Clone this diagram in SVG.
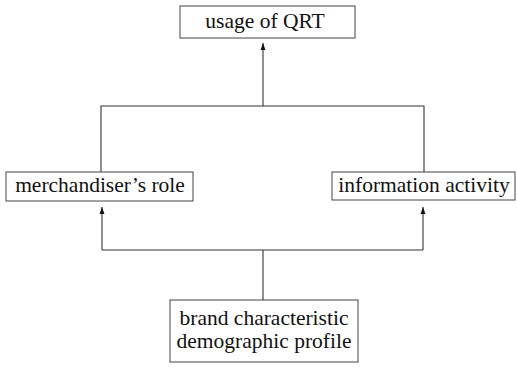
<svg xmlns="http://www.w3.org/2000/svg" width="517" height="368" viewBox="0 0 517 368">
<defs>
<style>
.box{fill:#fff;stroke:#444;stroke-width:1}
.lbl{font-family:"Liberation Serif","Times New Roman",serif;font-size:21.5px;fill:#111;text-anchor:middle}
.con{fill:none;stroke:#333;stroke-width:1.1}
</style>
<marker id="ah" viewBox="0 0 10 10" refX="10" refY="5" markerWidth="7" markerHeight="7" markerUnits="userSpaceOnUse" orient="auto">
<path d="M0,1.5 L10,5 L0,8.5 Z" fill="#111"/>
</marker>
</defs>
<rect width="517" height="368" fill="#fff"/>
<g id="connectors">
<path class="con" d="M263,106 V43" marker-end="url(#ah)"/>
<path class="con" d="M101,172 V106 H424 V172"/>
<path class="con" d="M263,300 V250"/>
<path class="con" d="M102,250 H423"/>
<path class="con" d="M102,250 V207" marker-end="url(#ah)"/>
<path class="con" d="M423,250 V207" marker-end="url(#ah)"/>
</g>
<g id="node-usage">
<rect class="box" x="180" y="6" width="175" height="32"/>
<text class="lbl" x="265" y="28">usage of QRT</text>
</g>
<g id="node-merchandiser">
<rect class="box" x="6" y="172" width="187" height="29"/>
<text class="lbl" x="100" y="192">merchandiser’s role</text>
</g>
<g id="node-information">
<rect class="box" x="332" y="172" width="183" height="28"/>
<text class="lbl" x="424" y="192">information activity</text>
</g>
<g id="node-brand">
<rect class="box" x="170" y="300" width="188" height="62"/>
<text class="lbl" x="264" y="325">brand characteristic</text>
<text class="lbl" x="264" y="348">demographic profile</text>
</g>
</svg>
